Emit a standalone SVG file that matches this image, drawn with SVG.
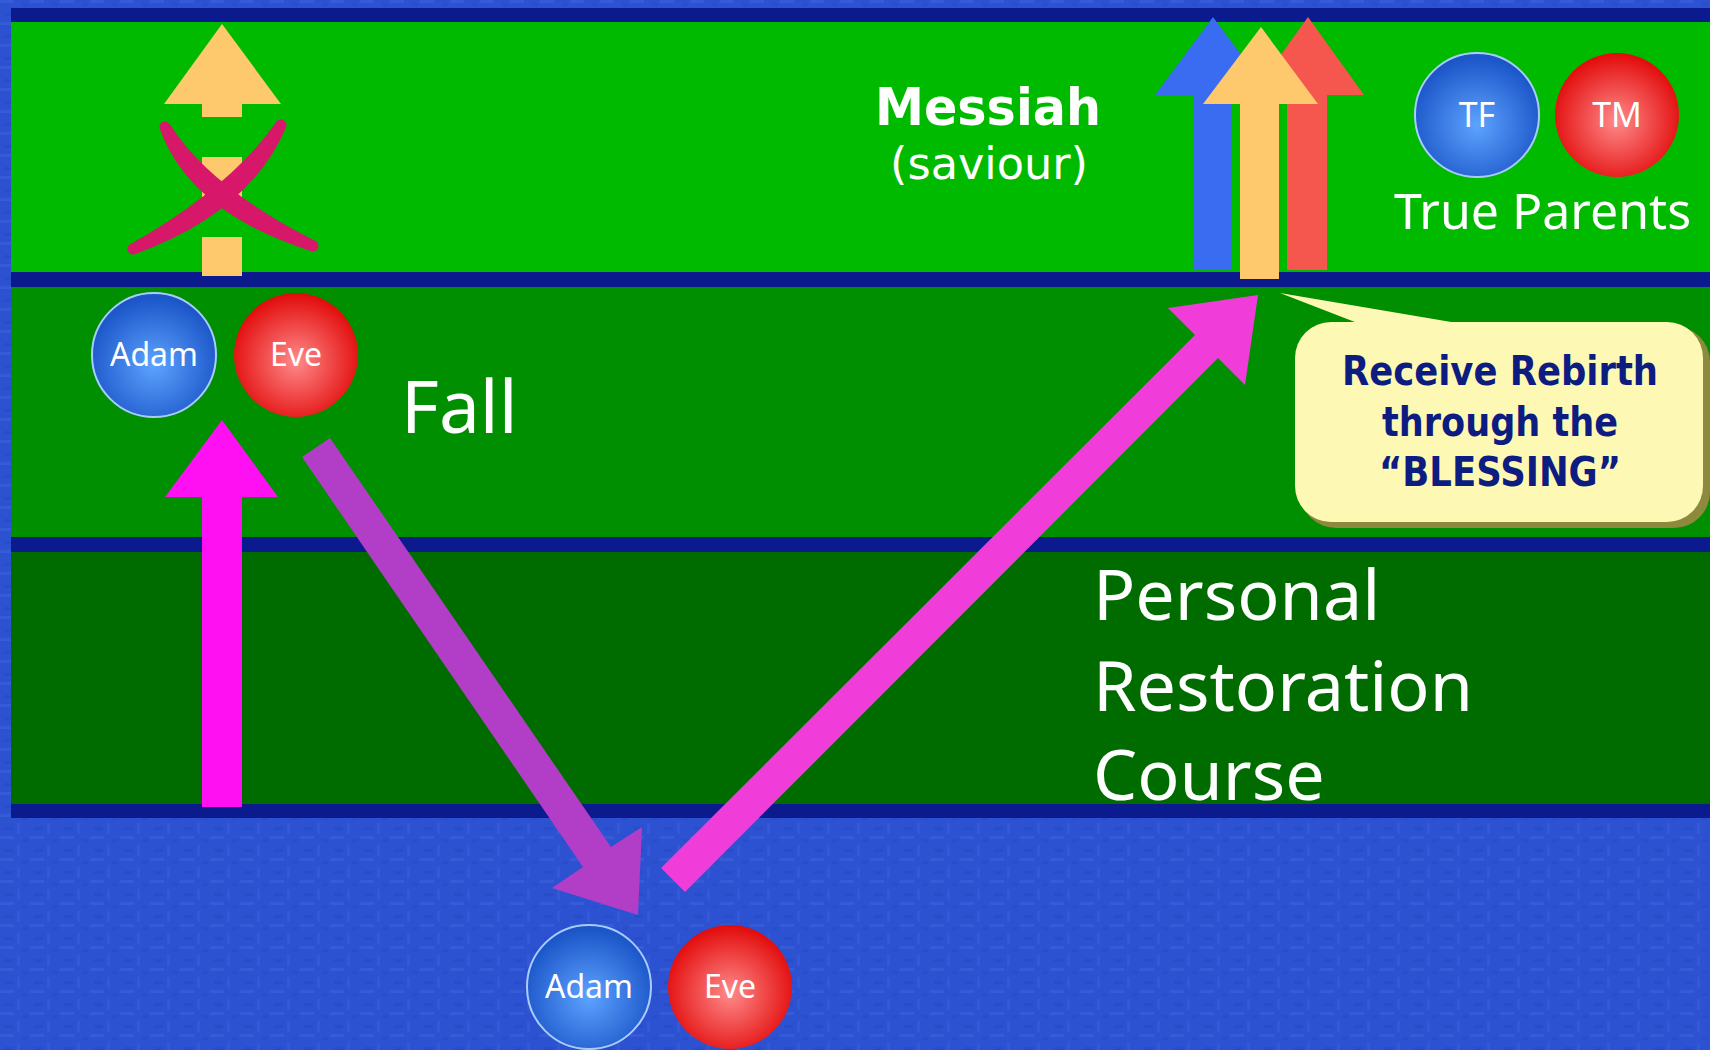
<svg xmlns="http://www.w3.org/2000/svg" width="1710" height="1050" viewBox="0 0 1710 1050">
  <defs>
    <pattern id="tex" width="30" height="22" patternUnits="userSpaceOnUse">
      <rect width="30" height="22" fill="#2c52d2"/>
      <rect x="0" y="0" width="14" height="3" fill="#4b70e4" opacity="0.3"/>
      <rect x="17" y="9" width="3" height="11" fill="#4b70e4" opacity="0.25"/>
      <rect x="4" y="13" width="9" height="3" fill="#2044bc" opacity="0.35"/>
      <rect x="22" y="3" width="6" height="3" fill="#2044bc" opacity="0.3"/>
    </pattern>
    <radialGradient id="gBlue" cx="50%" cy="58%" r="55%">
      <stop offset="0" stop-color="#5da3ff"/>
      <stop offset="1" stop-color="#1b55c8"/>
    </radialGradient>
    <radialGradient id="gRed" cx="50%" cy="55%" r="55%">
      <stop offset="0" stop-color="#ff8a8a"/>
      <stop offset="1" stop-color="#e20a0a"/>
    </radialGradient>
    <style>
      .navy { fill: #0b1a8c; }
      .lbl { font-family: "Noto Sans", "DejaVu Sans", sans-serif; fill: #ffffff; }
      .dv { font-family: "DejaVu Sans", "Noto Sans", sans-serif; fill: #ffffff; }
      .cap { font-family: "Noto Sans", "DejaVu Sans", sans-serif; fill: #ffffff; font-size: 32px; text-anchor: middle; }
      .bub { font-family: "DejaVu Sans", "Noto Sans", sans-serif; fill: #0c1c80; font-size: 40px; font-weight: bold; text-anchor: middle; }
      .bl { fill: url(#gBlue); stroke: #a9ccff; stroke-width: 2; }
      .rd { fill: url(#gRed); }
      .xs { fill: #d6176a; stroke: #d6176a; stroke-width: 11; stroke-linecap: round; stroke-linejoin: round; }
    </style>
  </defs>

  <!-- background -->
  <rect x="0" y="0" width="1710" height="1050" fill="url(#tex)"/>
  <!-- bands -->
  <rect class="navy" x="11" y="8" width="1699" height="14"/>
  <rect x="11" y="22" width="1699" height="250" fill="#00ba00"/>
  <rect class="navy" x="11" y="272" width="1699" height="15"/>
  <rect x="11" y="287" width="1699" height="250" fill="#008f00"/>
  <rect class="navy" x="11" y="537" width="1699" height="15"/>
  <rect x="11" y="552" width="1699" height="252" fill="#006c00"/>
  <rect class="navy" x="11" y="804" width="1699" height="14"/>

  <!-- crossed out yellow arrow -->
  <g id="blocked-arrow">
    <polygon points="222,24 281,104 164,104" fill="#fec86c"/>
    <rect x="202" y="103" width="40" height="14" fill="#fec86c"/>
    <rect x="202" y="157" width="40" height="40" fill="#fec86c"/>
    <rect x="202" y="237" width="40" height="39" fill="#fec86c"/>
    <path class="xs" d="M165,127 Q206,192 313,246 Q194,208 165,127 Z"/>
    <path class="xs" d="M281,125 Q246,208 133,249 Q234,192 281,125 Z"/>
  </g>

  <!-- Messiah arrows -->
  <g id="messiah-arrows">
    <polygon points="1213,17 1271,95 1232,95 1232,270 1193,270 1193,95 1155,95" fill="#3a6cf2"/>
    <polygon points="1308,17 1364,95 1327,95 1327,270 1287,270 1287,95 1252,95" fill="#f5574e"/>
    <polygon points="1261,27 1318,104 1279,104 1279,279 1240,279 1240,104 1203,104" fill="#fec86c"/>
  </g>

  <g id="connectors">
    <!-- up magenta -->
    <polygon points="222,420 278,497 242,497 242,807 202,807 202,497 165,497" fill="#ff10f2"/>
    <!-- purple down -->
    <polygon points="302,457 330,438 611,847 642,827 638,915 552,888 583,867" fill="#b23ec8"/>
    <!-- pink up-right -->
    <polygon points="661,868 1195,335 1168,308 1258,295 1245,385 1218,358 685,892" fill="#f03cd8"/>
  </g>

  <g id="adam-top">
    <circle class="bl" cx="154" cy="355" r="62"/>
    <text class="cap" x="154" y="366">Adam</text>
  </g>
  <g id="eve-top">
    <circle class="rd" cx="296" cy="355" r="62"/>
    <text class="cap" x="296" y="366">Eve</text>
  </g>
  <g id="adam-bottom">
    <circle class="bl" cx="589" cy="987" r="62"/>
    <text class="cap" x="589" y="998">Adam</text>
  </g>
  <g id="eve-bottom">
    <circle class="rd" cx="730" cy="987" r="62"/>
    <text class="cap" x="730" y="998">Eve</text>
  </g>
  <g id="tf">
    <circle class="bl" cx="1477" cy="115" r="62"/>
    <text class="cap" x="1477" y="127" style="font-size:34px">TF</text>
  </g>
  <g id="tm">
    <circle class="rd" cx="1617" cy="115" r="62"/>
    <text class="cap" x="1617" y="127" style="font-size:34px">TM</text>
  </g>

  <g id="labels">
    <text class="dv" x="988" y="125" font-size="52" font-weight="bold" text-anchor="middle" textLength="226" lengthAdjust="spacingAndGlyphs">Messiah</text>
    <text class="dv" x="989" y="179" font-size="44" text-anchor="middle" textLength="198" lengthAdjust="spacingAndGlyphs">(saviour)</text>
    <text class="lbl" x="1394" y="229" font-size="50">True Parents</text>
    <text class="lbl" x="401" y="433" font-size="73">Fall</text>
    <text class="lbl" x="1093" y="620" font-size="70">Personal</text>
    <text class="lbl" x="1093" y="711" font-size="70">Restoration</text>
    <text class="lbl" x="1093" y="800" font-size="70">Course</text>
  </g>

  <g id="callout">
    <rect x="1300" y="326" width="410" height="202" rx="36" fill="#8c8a3c"/>
    <polygon points="1280,293 1360,324 1463,324" fill="#fdf8b4"/>
    <rect x="1295" y="322" width="408" height="200" rx="36" fill="#fdf8b4"/>
    <text class="bub" x="1500" y="385" textLength="316" lengthAdjust="spacingAndGlyphs">Receive Rebirth</text>
    <text class="bub" x="1500" y="436" textLength="236" lengthAdjust="spacingAndGlyphs">through the</text>
    <text class="bub" x="1500" y="486" textLength="242" lengthAdjust="spacingAndGlyphs">“BLESSING”</text>
  </g>
</svg>
